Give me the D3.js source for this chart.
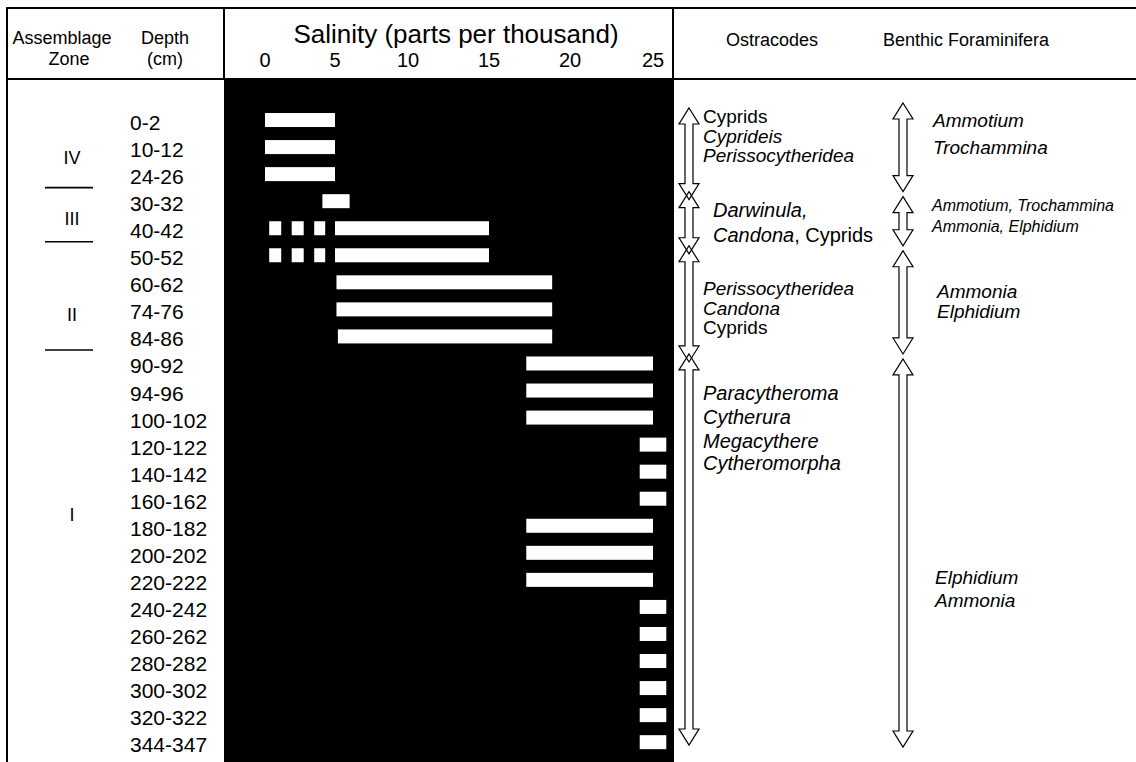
<!DOCTYPE html>
<html>
<head>
<meta charset="utf-8">
<script src="https://cdn.jsdelivr.net/npm/d3@7"></script>
<style>
  body { margin: 0; background: #fff; }
  svg { display: block; }
  text { font-family: "Liberation Sans", Arial, Helvetica, sans-serif; fill: #000; }
</style>
</head>
<body>
<svg id="chart" width="1136" height="762"></svg>
<script>
// Sample depths (cm) down the core
const depths = ["0-2","10-12","24-26","30-32","40-42","50-52","60-62","74-76","84-86","90-92",
  "94-96","100-102","120-122","140-142","160-162","180-182","200-202","220-222","240-242",
  "260-262","280-282","300-302","320-322","344-347"];

// Inferred salinity range (ppt) for each sample
const salinityLow  = [0, 0, 0, 4.1, 5, 5, 5.1, 5.1, 5.2, 17.3, 17.3, 17.3, 24.2, 24.2, 24.2,
  17.3, 17.3, 17.3, 24.2, 24.2, 24.2, 24.2, 24.2, 24.2];
const salinityHigh = [5, 5, 5, 6, 15, 15, 18.9, 18.9, 18.9, 25, 25, 25, 25.8, 25.8, 25.8,
  25, 25, 25, 25.8, 25.8, 25.8, 25.8, 25.8, 25.8];

// Uncertain (dotted) part of the range
const uncertainLow  = [null, null, null, null, 0.3, 0.3, null, null, null, null, null, null,
  null, null, null, null, null, null, null, null, null, null, null, null];
const uncertainHigh = [null, null, null, null, 4.3, 4.3, null, null, null, null, null, null,
  null, null, null, null, null, null, null, null, null, null, null, null];

const salinityTicks = [0, 5, 10, 15, 20, 25];

// Assemblage zones, top to bottom, with the number of samples in each
const zoneNames = ["IV", "III", "II", "I"];
const zoneSize  = [3, 2, 4, 15];

// Ostracode groups: each line is a list of [text, italic]
const ostracodeLines = [
  [[["Cyprids", 0]], [["Cyprideis", 1]], [["Perissocytheridea", 1]]],
  [[["Darwinula,", 1]], [["Candona", 1], [", Cyprids", 0]]],
  [[["Perissocytheridea", 1]], [["Candona", 1]], [["Cyprids", 0]]],
  [[["Paracytheroma", 1]], [["Cytherura", 1]], [["Megacythere", 1]], [["Cytheromorpha", 1]]]
];

// Benthic foraminifera groups
const foraminiferaLines = [
  ["Ammotium", "Trochammina"],
  ["Ammotium, Trochammina", "Ammonia, Elphidium"],
  ["Ammonia", "Elphidium"],
  ["Elphidium", "Ammonia"]
];

const svg = d3.select("#chart");
const W = 1136, H = 762;

// ---- layout ----
const frameLeft = 7, frameTop = 8, headBottom = 79;
const panelLeft = 224, panelRight = 674;

const x = d3.scaleLinear()
  .domain(salinityTicks)
  .range([265, 335, 408, 489, 570, 653]);

const y = d3.scaleBand()
  .domain(depths)
  .range([106.5, 755.7])
  .paddingInner(0.4824)
  .paddingOuter(0.2412);

const bw = y.bandwidth();
const cy = d => y(d) + bw / 2;

// black salinity panel
svg.append("rect")
  .attr("x", panelLeft).attr("y", headBottom)
  .attr("width", panelRight - panelLeft).attr("height", H - headBottom)
  .attr("fill", "#000");

// frame lines
const frame = svg.append("g").attr("stroke", "#000").attr("stroke-width", 2);
frame.append("line").attr("x1", frameLeft - 1).attr("x2", W).attr("y1", frameTop).attr("y2", frameTop);
frame.append("line").attr("x1", frameLeft - 1).attr("x2", W).attr("y1", headBottom).attr("y2", headBottom);
frame.append("line").attr("x1", frameLeft).attr("x2", frameLeft).attr("y1", frameTop).attr("y2", H);
frame.append("line").attr("x1", panelLeft).attr("x2", panelLeft).attr("y1", frameTop).attr("y2", headBottom);
frame.append("line").attr("x1", panelRight - 1).attr("x2", panelRight - 1).attr("y1", frameTop).attr("y2", headBottom);

// ---- header ----
const head = svg.append("g");
head.append("text").attr("x", 62).attr("y", 44).attr("text-anchor", "middle")
  .attr("font-size", 18).text("Assemblage");
head.append("text").attr("x", 69).attr("y", 65).attr("text-anchor", "middle")
  .attr("font-size", 18).text("Zone");
head.append("text").attr("x", 165).attr("y", 44).attr("text-anchor", "middle")
  .attr("font-size", 18).text("Depth");
head.append("text").attr("x", 165).attr("y", 65).attr("text-anchor", "middle")
  .attr("font-size", 18).text("(cm)");
head.append("text").attr("x", 456).attr("y", 43).attr("text-anchor", "middle")
  .attr("font-size", 26).text("Salinity (parts per thousand)");
head.append("text").attr("x", 772).attr("y", 46).attr("text-anchor", "middle")
  .attr("font-size", 18).text("Ostracodes");
head.append("text").attr("x", 966).attr("y", 46).attr("text-anchor", "middle")
  .attr("font-size", 18).text("Benthic Foraminifera");

// salinity tick labels from the scale
head.append("g").selectAll("text")
  .data(salinityTicks).join("text")
  .attr("x", d => x(d)).attr("y", 67)
  .attr("text-anchor", "middle").attr("font-size", 20)
  .text(d => d);

// ---- depth labels ----
svg.append("g").selectAll("text")
  .data(depths).join("text")
  .attr("x", 130).attr("y", d => cy(d) + 10)
  .attr("font-size", 21)
  .text(d => d);

// ---- salinity bars ----
const rows = depths.map((d, i) => ({
  depth: d, lo: salinityLow[i], hi: salinityHigh[i],
  ulo: uncertainLow[i], uhi: uncertainHigh[i]
}));

svg.append("g").selectAll("rect")
  .data(rows).join("rect")
  .attr("x", d => x(d.lo)).attr("width", d => x(d.hi) - x(d.lo))
  .attr("y", d => y(d.depth)).attr("height", bw)
  .attr("fill", "#fff");

svg.append("g").selectAll("line")
  .data(rows.filter(d => d.ulo != null)).join("line")
  .attr("x1", d => x(d.ulo)).attr("x2", d => x(d.uhi))
  .attr("y1", d => cy(d.depth)).attr("y2", d => cy(d.depth))
  .attr("stroke", "#fff").attr("stroke-width", bw)
  .attr("stroke-dasharray", "12,10.5");

// ---- zones ----
let start = 0;
const zoneInfo = zoneNames.map((z, k) => {
  const s = start, e = start + zoneSize[k] - 1;
  start += zoneSize[k];
  return { name: z, first: s, last: e };
});
const boundary = i => (cy(depths[i - 1]) + cy(depths[i])) / 2;

const zoneG = svg.append("g");
zoneG.selectAll("line")
  .data(zoneInfo.slice(1)).join("line")
  .attr("x1", 45).attr("x2", 93)
  .attr("y1", d => boundary(d.first)).attr("y2", d => boundary(d.first))
  .attr("stroke", "#000").attr("stroke-width", 1.6);

// label anchor within each zone (fraction of zone height from its top)
const zoneLabelPos = [0.63, 0.57, 0.67, 0.41];
zoneG.selectAll("text")
  .data(zoneInfo).join("text")
  .attr("x", 72).attr("text-anchor", "middle").attr("font-size", 18)
  .attr("y", (d, k) => {
    const top = d.first === 0 ? y(depths[0]) - 6 : boundary(d.first);
    const bot = d.last === depths.length - 1 ? H - 10 : boundary(d.last + 1);
    return top + (bot - top) * zoneLabelPos[k] + 6.5;
  })
  .text(d => d.name);

// ---- range arrows ----
function arrowPath(cx, y0, y1) {
  const hw = 10, sw = 4, hh = 16;
  const p = d3.path();
  p.moveTo(cx, y0);
  p.lineTo(cx + hw, y0 + hh); p.lineTo(cx + sw, y0 + hh);
  p.lineTo(cx + sw, y1 - hh); p.lineTo(cx + hw, y1 - hh);
  p.lineTo(cx, y1);
  p.lineTo(cx - hw, y1 - hh); p.lineTo(cx - sw, y1 - hh);
  p.lineTo(cx - sw, y0 + hh); p.lineTo(cx - hw, y0 + hh);
  p.closePath();
  return p.toString();
}

const ostSpans = zoneInfo.map(z => ({
  top: z.first === 0 ? 108 : boundary(z.first) + 4,
  bot: z.last === depths.length - 1 ? 745 : boundary(z.last + 1) + 12
}));
const forSpans = zoneInfo.map(z => ({
  top: z.first === 0 ? 103 : boundary(z.first) + 9,
  bot: z.last === depths.length - 1 ? 747 : boundary(z.last + 1) + 4
}));

const arrows = svg.append("g").attr("fill", "none").attr("stroke", "#000")
  .attr("stroke-width", 1.2).attr("stroke-linejoin", "miter");
arrows.selectAll("path.ost").data(ostSpans).join("path").attr("class", "ost")
  .attr("d", d => arrowPath(689, d.top, d.bot));
arrows.selectAll("path.for").data(forSpans).join("path").attr("class", "for")
  .attr("d", d => arrowPath(903, d.top, d.bot));

// ---- taxa text ----
const ostLayout = [
  { x: 703, ys: [123, 142.5, 162], size: 19 },
  { x: 713, ys: [217, 242], size: 20 },
  { x: 703, ys: [295, 314.5, 334], size: 19 },
  { x: 703, ys: [400, 424, 448, 470], size: 20 }
];
const ostG = svg.append("g");
ostracodeLines.forEach((lines, k) => {
  lines.forEach((segs, j) => {
    const t = ostG.append("text").attr("x", ostLayout[k].x).attr("y", ostLayout[k].ys[j])
      .attr("font-size", ostLayout[k].size);
    segs.forEach(([s, it]) => t.append("tspan").attr("font-style", it ? "italic" : "normal").text(s));
  });
});

const forLayout = [
  { x: 933, ys: [127, 154], size: 19 },
  { x: 932, ys: [211, 232], size: 16 },
  { x: 937, ys: [298, 318], size: 19 },
  { x: 935, ys: [584, 607], size: 19 }
];
const forG = svg.append("g").attr("font-style", "italic");
foraminiferaLines.forEach((lines, k) => {
  lines.forEach((s, j) => {
    forG.append("text").attr("x", forLayout[k].x).attr("y", forLayout[k].ys[j])
      .attr("font-size", forLayout[k].size).text(s);
  });
});
</script>
</body>
</html>
